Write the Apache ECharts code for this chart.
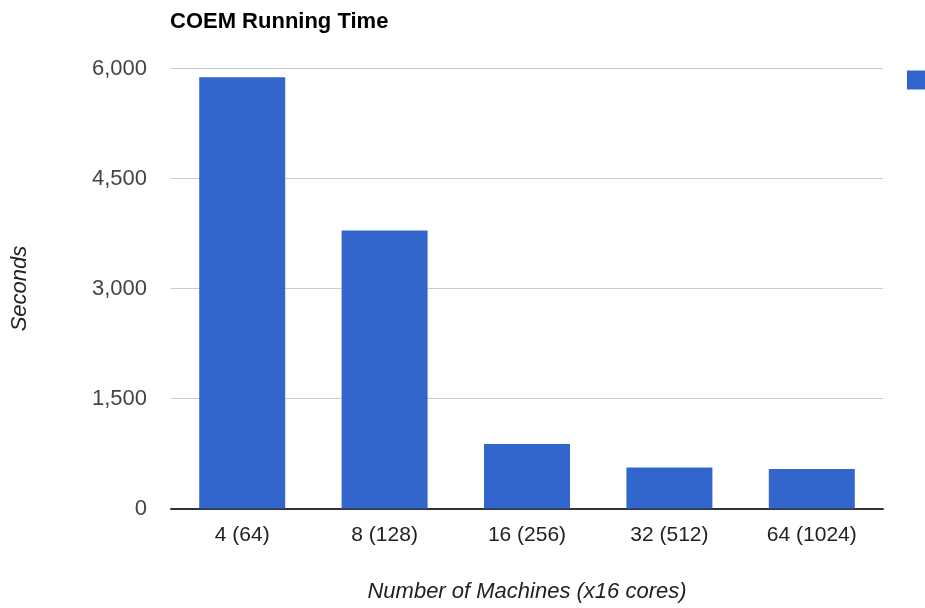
<!DOCTYPE html>
<html>
<head>
<meta charset="utf-8">
<style>
  html, body { margin: 0; padding: 0; background: #fff; }
  #chart { width: 925px; height: 608px; }
</style>
<script src="https://cdn.jsdelivr.net/npm/echarts@6/dist/echarts.min.js"></script>
</head>
<body>
<div id="chart"></div>
<script>
// Cluster sizes: machines (total cores)
const categories = ['4 (64)', '8 (128)', '16 (256)', '32 (512)', '64 (1024)'];
// COEM running time in seconds
const runningTime = [5880, 3790, 880, 560, 540];
const seriesName = 'Running time';

const FONT = '"Liberation Sans", Arial, sans-serif';

const chart = echarts.init(document.getElementById('chart'), null, { renderer: 'canvas' });

chart.setOption({
  animation: false,
  backgroundColor: '#ffffff',
  title: {
    text: 'COEM Running Time',
    left: 165,
    top: 6,
    textStyle: { fontFamily: FONT, fontSize: 22, fontWeight: 'bold', color: '#000' }
  },
  legend: {
    left: 907,
    top: 70,
    padding: 0,
    icon: 'rect',
    itemWidth: 19,
    itemHeight: 19,
    itemGap: 8,
    data: [seriesName],
    textStyle: { fontFamily: FONT, fontSize: 20, color: '#222' }
  },
  grid: { left: 171, top: 68.5, width: 712, height: 440, containLabel: false },
  xAxis: {
    type: 'category',
    data: categories,
    name: 'Number of Machines (x16 cores)',
    nameLocation: 'middle',
    nameGap: 72,
    nameTextStyle: { fontFamily: FONT, fontSize: 22, fontStyle: 'italic', color: '#222' },
    axisLine: { show: true, lineStyle: { color: '#333', width: 2 } },
    axisTick: { show: false },
    axisLabel: { fontFamily: FONT, fontSize: 21, color: '#222', margin: 16 },
    splitLine: { show: false }
  },
  yAxis: {
    type: 'value',
    min: 0,
    max: 6000,
    interval: 1500,
    name: 'Seconds',
    nameLocation: 'middle',
    nameRotate: 90,
    nameGap: 140,
    nameTextStyle: { fontFamily: FONT, fontSize: 22, fontStyle: 'italic', color: '#222' },
    axisLine: { show: false },
    axisTick: { show: false },
    axisLabel: {
      fontFamily: FONT, fontSize: 22, color: '#444', margin: 24,
      formatter: v => v.toLocaleString('en-US')
    },
    splitLine: { show: true, lineStyle: { color: '#cccccc', width: 1 } }
  },
  series: [{
    name: seriesName,
    type: 'bar',
    data: runningTime,
    barWidth: 86,
    itemStyle: { color: '#3366cc' }
  }]
});
</script>
</body>
</html>
